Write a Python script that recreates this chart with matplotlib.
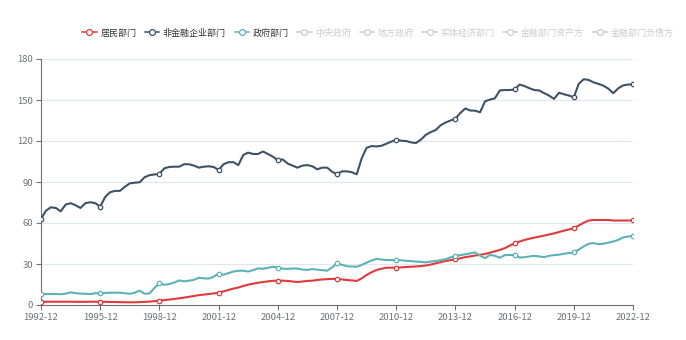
import numpy as np
import pandas as pd
import matplotlib
matplotlib.use("Agg")
import matplotlib.pyplot as plt
from matplotlib.lines import Line2D

plt.rcParams['font.family'] = ['Noto Sans CJK SC', 'DejaVu Sans']

# quarterly categories 1992-12 .. 2022-12
quarters = [p.strftime('%Y-%m') for p in pd.period_range('1992Q4', '2022Q4', freq='Q').to_timestamp(how='end')]

# 居民部门 (households)
household = [2.4,
    2.4, 2.4, 2.4, 2.4,   2.4, 2.4, 2.3, 2.3,   2.3, 2.4, 2.4, 2.4,
    2.3, 2.2, 2.2, 2.1,   2.0, 2.0, 2.0, 2.1,   2.3, 2.5, 2.8, 3.2,
    3.6, 4.0, 4.4, 4.9,   5.4, 6.0, 6.6, 7.2,   7.6, 8.0, 8.5, 9.0,
    10.0, 11.0, 12.0, 12.8,   13.9, 14.9, 15.6, 16.3,   16.8, 17.3, 17.7, 17.8,
    17.8, 17.6, 17.2, 16.8,   17.2, 17.6, 17.8, 18.3,   18.7, 18.9, 19.1, 19.1,
    18.7, 18.3, 18.0, 17.6,   19.5, 22.0, 24.0, 25.6,   26.5, 27.3, 27.3, 27.3,
    27.5, 27.8, 28.0, 28.2,   28.5, 28.9, 29.6, 30.5,   31.3, 32.2, 32.8, 33.4,
    34.2, 35.0, 35.6, 36.2,   36.8, 37.3, 38.3, 39.3,   40.3, 41.6, 43.4, 45.1,
    46.4, 47.6, 48.5, 49.3,   50.0, 50.8, 51.6, 52.4,   53.4, 54.4, 55.3, 56.1,
    58.2, 60.2, 61.8, 62.2,   62.2, 62.2, 62.2, 61.8,   61.8, 61.8, 61.8, 61.9]

# 非金融企业部门 (non-financial corporates)
corporate = [63.0,
    69.0, 71.5, 71.0, 68.5,   73.5, 74.5, 73.0, 71.0,   74.5, 75.2, 74.5, 72.0,
    79.0, 82.5, 83.5, 83.5,   86.5, 89.0, 89.5, 89.8,   93.5, 95.0, 95.5, 96.0,
    100.0, 101.0, 101.2, 101.2,   103.0, 103.0, 102.0, 100.5,   101.2, 101.5, 101.0, 98.8,
    103.0, 104.5, 104.5, 102.4,   109.8, 111.5, 110.5, 110.5,   112.3, 110.5, 108.5, 106.0,
    106.5, 103.5, 102.0, 100.5,   102.0, 102.4, 101.5, 99.3,   100.5, 100.5, 97.5, 95.8,
    97.8, 97.8, 97.2, 95.6,   107.3, 115.0, 116.3, 116.0,   116.5, 118.0, 119.5, 121.0,
    120.2, 120.0, 119.0, 118.5,   121.0, 124.5, 126.5, 128.0,   131.5, 133.5, 135.0, 136.3,
    140.5, 143.8, 142.3, 142.2,   141.0, 149.0, 150.3, 151.2,   157.0, 157.3, 157.3, 157.7,
    161.3, 160.2, 158.6, 157.3,   157.0, 155.0, 153.2, 150.8,   155.3, 154.2, 153.3, 152.0,
    161.8, 165.2, 164.7, 162.9,   161.8, 160.5, 158.3, 155.0,   158.5, 160.7, 161.3, 161.4]

# 政府部门 (government)
government = [8.0,
    8.0, 8.0, 8.0, 7.9,   8.3, 9.2, 8.7, 8.3,   8.2, 8.0, 8.6, 8.5,
    8.8, 9.0, 9.0, 9.0,   8.6, 8.2, 9.0, 10.5,   8.2, 8.5, 12.5, 15.8,
    14.8, 15.3, 16.4, 18.0,   17.3, 17.8, 18.4, 20.0,   19.5, 19.3, 20.7, 23.0,
    22.2, 23.3, 24.5, 25.0,   25.1, 24.5, 25.5, 26.8,   26.5, 27.2, 28.0, 27.3,
    26.6, 26.4, 26.7, 26.6,   25.9, 25.7, 26.3, 25.8,   25.5, 25.1, 27.5, 30.5,
    29.4, 28.4, 28.1, 28.0,   29.3, 31.0, 32.6, 33.7,   33.3, 32.9, 32.9, 32.9,
    32.7, 32.4, 32.1, 31.8,   31.5, 31.2, 31.8, 32.2,   32.8, 33.5, 34.8, 35.9,
    36.5, 37.1, 37.8, 38.5,   36.0, 34.3, 36.6, 36.0,   34.6, 36.5, 36.6, 36.6,
    34.7, 35.0, 35.5, 36.0,   35.5, 35.1, 36.0, 36.5,   36.8, 37.5, 38.0, 38.5,
    40.5, 42.9, 44.8, 45.3,   44.5, 44.8, 45.6, 46.5,   47.6, 49.5, 50.1, 50.5]

legend_names = ['居民部门', '非金融企业部门', '政府部门', '中央政府', '地方政府',
                '实体经济部门', '金融部门资产方', '金融部门负债方']
colors = ['#e2393b', '#3e5266', '#5cb2b6']
off_color = '#cccccc'

x = np.arange(len(quarters))
label_step = 12

fig = plt.figure(figsize=(6.86, 3.4), dpi=100)
ax = fig.add_axes([41/686, 1 - 305/340, (633 - 41)/686, (305 - 59)/340])

for y, c in zip([household, corporate, government], colors):
    ax.plot(x, y, color=c, lw=1.5, zorder=3,
            marker='o', markevery=label_step, markersize=3.2,
            markerfacecolor='white', markeredgecolor=c, markeredgewidth=0.9)

ax.set_xlim(0, len(quarters) - 1)
ax.set_ylim(0, 180)
ax.set_yticks(range(0, 181, 30))
ax.set_xticks(x[::label_step])
ax.set_xticklabels(quarters[::label_step])

ax.grid(axis='y', color='#e0e6f1', lw=0.8)
ax.set_axisbelow(True)
for s in ['top', 'right']:
    ax.spines[s].set_visible(False)
for s in ['left', 'bottom']:
    ax.spines[s].set_color('#6e7079')
    ax.spines[s].set_linewidth(0.8)
ax.tick_params(axis='both', colors='#6e7079', labelcolor='#6e7079',
               labelsize=6.8, length=3.5, width=0.8, pad=2)

handles = []
for i, name in enumerate(legend_names):
    c = colors[i] if i < 3 else off_color
    handles.append(Line2D([], [], color=c, lw=1.1, marker='o', markersize=4.2,
                          markerfacecolor='white', markeredgecolor=c, markeredgewidth=0.9))
leg = fig.legend(handles, legend_names, loc='center', bbox_to_anchor=(0.551, 1 - 33/340),
                 ncol=8, frameon=False, fontsize=6.5, handlelength=1.6,
                 handletextpad=0.4, columnspacing=0.95)
for i, t in enumerate(leg.get_texts()):
    t.set_color('#333333' if i < 3 else off_color)

fig.savefig('out.png', dpi=100)
